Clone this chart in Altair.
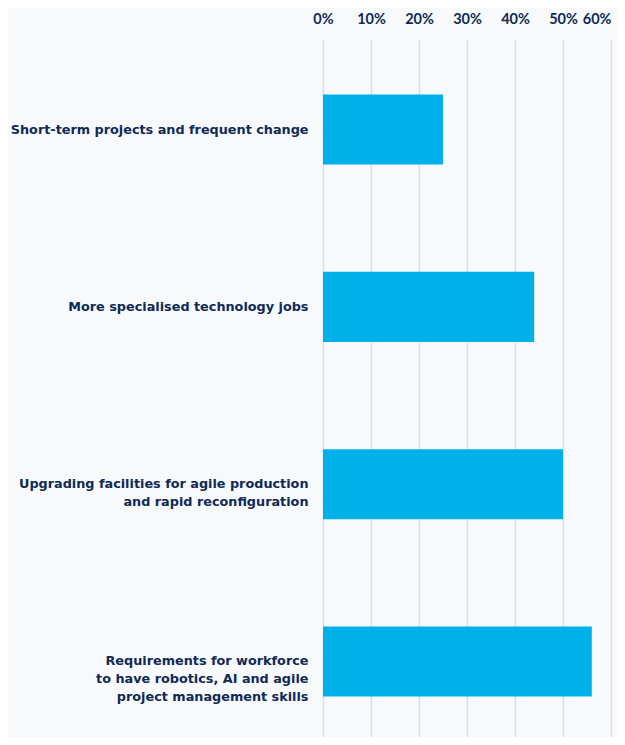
import altair as alt
import pandas as pd

categories = [
    "Short-term projects and frequent change",
    "More specialised technology jobs",
    "Upgrading facilities for agile production|and rapid reconfiguration",
    "Requirements for workforce|to have robotics, AI and agile|project management skills",
]
values = [25, 44, 50, 56]
tick_values = [0, 10, 20, 30, 40, 50, 60]

df = pd.DataFrame({"category": categories, "value": values})

navy = "#0e2a55"
chart = (
    alt.Chart(df)
    .mark_bar(color="#00b1e9")
    .encode(
        x=alt.X(
            "value:Q",
            scale=alt.Scale(domain=[0, 60], nice=False),
            axis=alt.Axis(
                orient="top",
                values=tick_values,
                labelExpr="datum.value + '%'",
                labelOverlap=False,
                labelFlush=False,
                labelAlign=alt.ExprRef(expr="datum.value >= 60 ? 'right' : 'center'"),
                domain=False,
                ticks=False,
                labelPadding=14,
                labelFont="Lato",
                labelFontWeight="bold",
                labelFontSize=14.5,
                labelColor=navy,
                gridColor="#d3e2f2",
                gridWidth=1.5,
                title=None,
            ),
        ),
        y=alt.Y(
            "category:N",
            sort=categories,
            scale=alt.Scale(paddingInner=0.605, paddingOuter=0.268, align=0.574),
            axis=alt.Axis(
                domain=False,
                ticks=False,
                grid=False,
                labelPadding=15,
                labelExpr="split(datum.label, '|')",
                labelFont="DejaVu Sans",
                labelFontWeight="bold",
                labelFontSize=12.8,
                labelLineHeight=18,
                labelColor=navy,
                labelLimit=400,
                title=None,
            ),
        ),
    )
    .properties(
        width=288,
        height=697,
        background="#f8f9fa",
        autosize=alt.AutoSizeParams(type="none"),
        padding={"left": 315, "top": 32, "right": 6, "bottom": 0},
    )
    .configure_view(stroke=None)
)

chart.save("out.html", embed_options={"renderer": "svg", "actions": False})
